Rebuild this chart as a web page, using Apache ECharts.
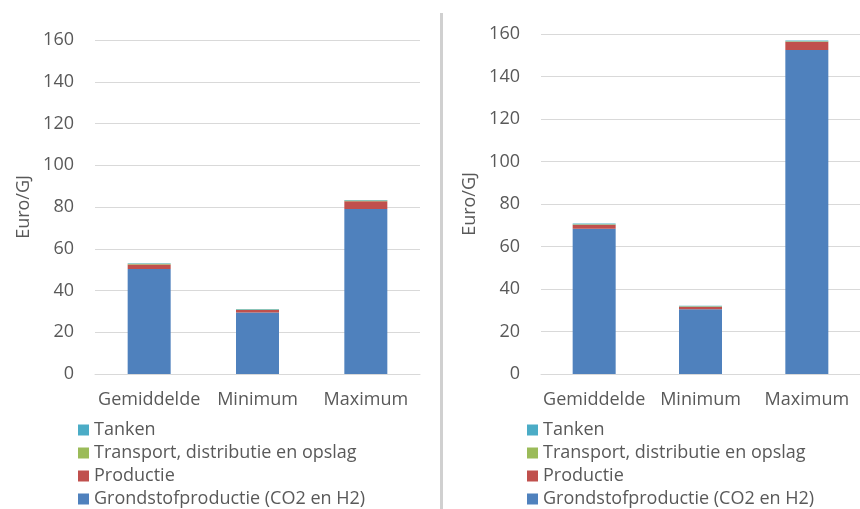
<!DOCTYPE html>
<html>
<head>
<meta charset="utf-8">
<script src="https://cdn.jsdelivr.net/npm/echarts@6/dist/echarts.min.js"></script>
<style>
html,body{margin:0;padding:0;background:#fff;}
#c{width:860px;height:509px;}
</style>
</head>
<body>
<div id="c"></div>
<script>
var categories = ['Gemiddelde', 'Minimum', 'Maximum'];
var seriesNames = ['Grondstofproductie (CO2 en H2)', 'Productie', 'Transport, distributie en opslag', 'Tanken'];
var legendOrder = ['Tanken', 'Transport, distributie en opslag', 'Productie', 'Grondstofproductie (CO2 en H2)'];
var colors = ['#4F81BD', '#C0504D', '#9BBB59', '#4BACC6'];
var yTicks = [0, 20, 40, 60, 80, 100, 120, 140, 160];

// Left chart values
var leftGrondstof = [50.3, 29.5, 79.0];
var leftProductie = [2.2, 1.2, 3.8];
var leftTransport = [0.3, 0.2, 0.3];
var leftTanken = [0.3, 0.2, 0.3];

// Right chart values
var rightGrondstof = [68.4, 30.5, 152.5];
var rightProductie = [1.8, 1.2, 3.8];
var rightTransport = [0.3, 0.2, 0.3];
var rightTanken = [0.3, 0.2, 0.3];

var FONT = 'Open Sans';
var TXT = '#595959';
var GRID = '#d9d9d9';

function xAxis(gi) {
  return {
    type: 'category', gridIndex: gi, data: categories,
    axisLine: {lineStyle: {color: GRID, width: 1}},
    axisTick: {show: false},
    axisLabel: {color: TXT, fontSize: 18, fontFamily: FONT, margin: 17, interval: 0}
  };
}
function yAxis(gi) {
  return {
    type: 'value', gridIndex: gi, min: 0, max: 160, interval: 20,
    name: 'Euro/GJ', nameLocation: 'middle', nameGap: 62, nameRotate: 90,
    nameTextStyle: {color: TXT, fontSize: 18, fontFamily: FONT},
    axisLine: {show: false}, axisTick: {show: false},
    axisLabel: {color: TXT, fontSize: 18, fontFamily: FONT, margin: 21,
      formatter: function (v) { return yTicks.indexOf(v) >= 0 ? String(v) : ''; }},
    splitLine: {lineStyle: {color: GRID, width: 1}}
  };
}
function mk(gi, arrs) {
  return arrs.map(function (d, i) {
    return {
      name: seriesNames[i], type: 'bar', stack: 's' + gi,
      xAxisIndex: gi, yAxisIndex: gi, data: d, barWidth: 43,
      itemStyle: {color: colors[i]}, emphasis: {disabled: true}
    };
  });
}
function legend(left) {
  return {
    orient: 'vertical', left: left, top: 421, height: 200, padding: 0,
    data: legendOrder,
    icon: 'rect', itemWidth: 11, itemHeight: 11, itemGap: 5,
    selectedMode: false,
    textStyle: {color: TXT, fontSize: 18, fontFamily: FONT}
  };
}

var chart = echarts.init(document.getElementById('c'), null, {renderer: 'canvas'});
chart.setOption({
  animation: false,
  color: colors,
  grid: [
    {left: 95, right: 440, top: 40, bottom: 135},
    {left: 541, right: -11, top: 34, bottom: 135}
  ],
  xAxis: [xAxis(0), xAxis(1)],
  yAxis: [yAxis(0), yAxis(1)],
  legend: [legend(78), legend(527)],
  series: mk(0, [leftGrondstof, leftProductie, leftTransport, leftTanken])
    .concat(mk(1, [rightGrondstof, rightProductie, rightTransport, rightTanken])),
  graphic: [{
    type: 'rect', shape: {x: 440, y: 13, width: 3, height: 500},
    style: {fill: '#d0d0d0'}, silent: true
  }]
});
</script>
</body>
</html>
